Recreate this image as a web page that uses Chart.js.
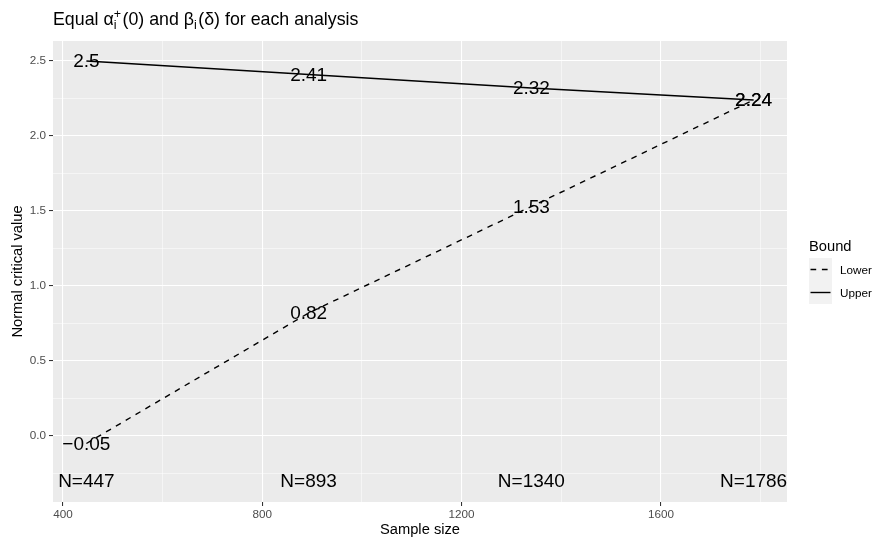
<!DOCTYPE html>
<html>
<head>
<meta charset="utf-8">
<script src="https://cdn.jsdelivr.net/npm/chart.js@4.4.1/dist/chart.umd.min.js"></script>
<style>
  html, body { margin: 0; padding: 0; background: #ffffff; }
</style>
</head>
<body>
<canvas id="chart1" width="876" height="541"></canvas>
<script>
// data
const sampleSizes = [447, 893, 1340, 1786];
const upperBound = [2.5, 2.41, 2.32, 2.24];
const lowerBound = [-0.05, 0.82, 1.53, 2.24];
const nLabels = ["N=447", "N=893", "N=1340", "N=1786"];
const nLabelY = -0.3;
const xTicks = [400, 600, 800, 1000, 1200, 1400, 1600, 1800];
const xMajor = [400, 800, 1200, 1600];
const yTicks = [-0.25, 0, 0.25, 0.5, 0.75, 1, 1.25, 1.5, 1.75, 2, 2.25, 2.5];
const yMajor = [0, 0.5, 1, 1.5, 2, 2.5];

const FONT = "'Liberation Sans', Arial, Helvetica, sans-serif";

function fmt(v) {
  return String(v).replace("-", "\u2212");
}
function yLabel(v) {
  return v.toFixed(1);
}

// gray panel behind the grid
const panelBg = {
  id: "panelBg",
  beforeDraw(chart) {
    const a = chart.chartArea;
    const ctx = chart.ctx;
    ctx.save();
    ctx.fillStyle = "#EBEBEB";
    ctx.fillRect(a.left, a.top, a.right - a.left, a.bottom - a.top);
    ctx.restore();
  },
};

// value labels at the points and N labels under them
const textLabels = {
  id: "textLabels",
  afterDatasetsDraw(chart) {
    const ctx = chart.ctx;
    const xs = chart.scales.x, ys = chart.scales.y;
    ctx.save();
    ctx.fillStyle = "#000000";
    ctx.font = "19px " + FONT;
    ctx.textAlign = "center";
    ctx.textBaseline = "middle";
    sampleSizes.forEach((n, i) => {
      const px = xs.getPixelForValue(n);
      ctx.fillText(fmt(upperBound[i]), px, ys.getPixelForValue(upperBound[i]) + 1);
      ctx.fillText(fmt(lowerBound[i]), px, ys.getPixelForValue(lowerBound[i]) + 1);
      ctx.fillText(nLabels[i], px, ys.getPixelForValue(nLabelY) + 1);
    });
    ctx.restore();
  },
};

// title with sub/superscripts, and the ggplot-like legend
const extras = {
  id: "extras",
  afterDraw(chart) {
    const ctx = chart.ctx;
    ctx.save();
    ctx.fillStyle = "#000000";
    ctx.textBaseline = "alphabetic";
    ctx.textAlign = "left";
    let x = chart.chartArea.left;
    const base = 25;
    const big = "17.8px " + FONT, small = "12.5px " + FONT;
    function put(t, f, dy) {
      ctx.font = f;
      ctx.fillText(t, x, base + dy);
      return ctx.measureText(t).width;
    }
    x += put("Equal \u03B1", big, 0);
    const w1 = put("+", small, -7);
    const w2 = put("i", small, 4);
    x += Math.max(w1, w2) + 1.5;
    x += put("(0) and \u03B2", big, 0);
    x += put("i", small, 4) + 1.5;
    put("(\u03B4) for each analysis", big, 0);

    // legend
    const lx = 809, ly = 258, key = 23;
    ctx.font = "14.7px " + FONT;
    ctx.fillText("Bound", lx, 251);
    const items = [
      { label: "Lower", dash: [5.7, 5.7] },
      { label: "Upper", dash: [] },
    ];
    items.forEach((it, i) => {
      const top = ly + i * key;
      ctx.fillStyle = "#F2F2F2";
      ctx.fillRect(lx, top, key, key);
      ctx.strokeStyle = "#000000";
      ctx.lineWidth = 1.4;
      ctx.setLineDash(it.dash);
      ctx.beginPath();
      ctx.moveTo(lx + 1.5, top + key / 2);
      ctx.lineTo(lx + key - 1.5, top + key / 2);
      ctx.stroke();
      ctx.setLineDash([]);
      ctx.fillStyle = "#000000";
      ctx.font = "11.7px " + FONT;
      ctx.textBaseline = "middle";
      ctx.fillText(it.label, lx + key + 8, top + key / 2 + 1);
      ctx.textBaseline = "alphabetic";
    });
    ctx.restore();
  },
};

function isMajor(list, v) {
  return list.some((m) => Math.abs(m - v) < 1e-9);
}

new Chart(document.getElementById("chart1"), {
  type: "line",
  data: {
    datasets: [
      {
        label: "Lower",
        data: sampleSizes.map((n, i) => ({ x: n, y: lowerBound[i] })),
        borderColor: "#000000",
        borderWidth: 1.4,
        borderDash: [5.7, 5.7],
        pointRadius: 0,
        tension: 0,
        fill: false,
      },
      {
        label: "Upper",
        data: sampleSizes.map((n, i) => ({ x: n, y: upperBound[i] })),
        borderColor: "#000000",
        borderWidth: 1.4,
        pointRadius: 0,
        tension: 0,
        fill: false,
      },
    ],
  },
  options: {
    responsive: false,
    animation: false,
    layout: { padding: { top: 41, right: 89, left: 0, bottom: 0 } },
    plugins: {
      legend: { display: false },
      tooltip: { enabled: false },
    },
    scales: {
      x: {
        type: "linear",
        min: 380,
        max: 1853,
        afterBuildTicks: (axis) => { axis.ticks = xTicks.map((v) => ({ value: v })); },
        afterFit: (scale) => { scale.height = 39; },
        border: { display: false },
        grid: {
          color: "#FFFFFF",
          lineWidth: (c) => (isMajor(xMajor, c.tick.value) ? 1.07 : 0.53),
          tickColor: (c) => (isMajor(xMajor, c.tick.value) ? "#333333" : "rgba(0,0,0,0)"),
          tickLength: 4,
          tickWidth: 1.07,
        },
        ticks: {
          autoSkip: false,
          maxRotation: 0,
          padding: 2,
          color: "#4D4D4D",
          font: { family: FONT, size: 11.7 },
          callback: (v) => (isMajor(xMajor, v) ? String(v) : ""),
        },
        title: {
          display: true,
          text: "Sample size",
          color: "#000000",
          font: { family: FONT, size: 14.7 },
          padding: { top: 0, bottom: 2 },
        },
      },
      y: {
        type: "linear",
        min: -0.44,
        max: 2.633,
        afterBuildTicks: (axis) => { axis.ticks = yTicks.map((v) => ({ value: v })); },
        afterFit: (scale) => { scale.width = 53; },
        border: { display: false },
        grid: {
          color: "#FFFFFF",
          lineWidth: (c) => (isMajor(yMajor, c.tick.value) ? 1.07 : 0.53),
          tickColor: (c) => (isMajor(yMajor, c.tick.value) ? "#333333" : "rgba(0,0,0,0)"),
          tickLength: 4,
          tickWidth: 1.07,
        },
        ticks: {
          autoSkip: false,
          padding: 3,
          color: "#4D4D4D",
          font: { family: FONT, size: 11.7 },
          callback: (v) => (isMajor(yMajor, v) ? yLabel(v) : ""),
        },
        title: {
          display: true,
          text: "Normal critical value",
          color: "#000000",
          font: { family: FONT, size: 14.7 },
          padding: { top: 9, bottom: 0 },
        },
      },
    },
  },
  plugins: [panelBg, textLabels, extras],
});
</script>
</body>
</html>
